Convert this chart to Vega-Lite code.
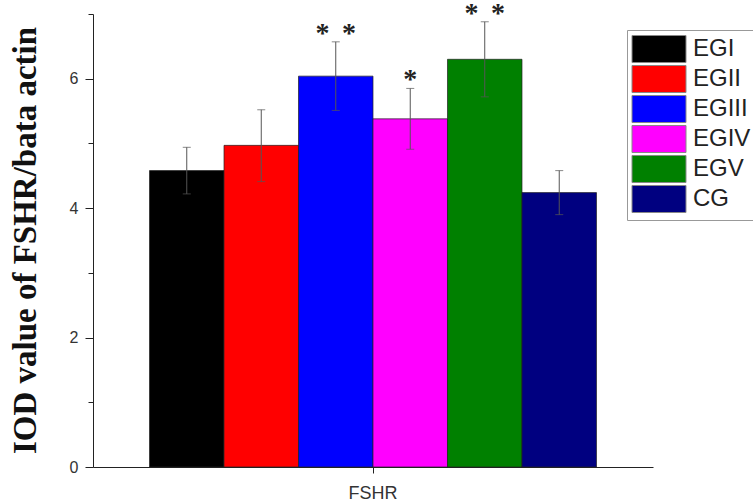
{
  "$schema": "https://vega.github.io/schema/vega-lite/v6.json",
  "width": 560,
  "height": 453,
  "autosize": {"type": "none"},
  "padding": {"left": 93, "top": 14, "right": 100, "bottom": 34},
  "background": "white",
  "config": {"view": {"stroke": null}},
  "data": {
    "values": [
      {"cat": "FSHR", "group": "EGI", "value": 4.58, "lo": 4.22, "hi": 4.94, "star": ""},
      {"cat": "FSHR", "group": "EGII", "value": 4.97, "lo": 4.41, "hi": 5.52, "star": ""},
      {"cat": "FSHR", "group": "EGIII", "value": 6.04, "lo": 5.51, "hi": 6.57, "star": "*\u00a0\u2009*"},
      {"cat": "FSHR", "group": "EGIV", "value": 5.38, "lo": 4.91, "hi": 5.85, "star": "*"},
      {"cat": "FSHR", "group": "EGV", "value": 6.30, "lo": 5.72, "hi": 6.88, "star": "*\u00a0\u2009*"},
      {"cat": "FSHR", "group": "CG", "value": 4.24, "lo": 3.90, "hi": 4.58, "star": ""}
    ]
  },
  "encoding": {
    "x": {
      "field": "cat",
      "type": "nominal",
      "scale": {"paddingOuter": 0.1264, "paddingInner": 0},
      "axis": {
        "title": null,
        "labelAngle": 0,
        "labelFont": "Liberation Sans",
        "labelFontSize": 18,
        "labelColor": "#333",
        "labelPadding": 11,
        "ticks": true,
        "tickSize": 6,
        "tickWidth": 1,
        "tickColor": "#222",
        "domainColor": "#222",
        "grid": false
      }
    },
    "xOffset": {
      "field": "group",
      "type": "nominal",
      "sort": ["EGI", "EGII", "EGIII", "EGIV", "EGV", "CG"],
      "scale": {"paddingInner": 0, "paddingOuter": 0}
    }
  },
  "layer": [
    {
      "mark": {"type": "bar", "stroke": "#222", "strokeWidth": 1, "strokeOpacity": 0.7},
      "encoding": {
        "y": {
          "field": "value",
          "type": "quantitative",
          "scale": {"domain": [0, 7], "nice": false, "zero": true},
          "axis": {
            "title": "IOD value of FSHR/bata actin",
            "values": [0, 1, 2, 3, 4, 5, 6, 7],
            "format": "d",
            "labelExpr": "datum.value % 2 == 0 ? datum.label : ''",
            "grid": false,
            "ticks": true,
            "tickSize": {"condition": {"test": "datum.value % 2 == 0", "value": 8}, "value": 5},
            "tickWidth": 1,
            "tickColor": "#222",
            "domainColor": "#222",
            "labelFont": "Liberation Sans",
            "labelFontSize": 16,
            "labelColor": "#333",
            "labelPadding": 7,
            "titleFont": "Liberation Serif",
            "titleFontSize": 33,
            "titleFontWeight": "bold",
            "titleColor": "#111",
            "titleAngle": 270,
            "titleAlign": "center",
            "titleBaseline": "middle",
            "titleX": -68,
            "titleY": 226
          }
        },
        "color": {
          "field": "group",
          "type": "nominal",
          "sort": ["EGI", "EGII", "EGIII", "EGIV", "EGV", "CG"],
          "scale": {
            "domain": ["EGI", "EGII", "EGIII", "EGIV", "EGV", "CG"],
            "range": ["#000000", "#ff0000", "#0000ff", "#ff00ff", "#008000", "#000080"]
          },
          "legend": {
            "title": null,
            "orient": "none",
            "legendX": 534,
            "legendY": 16,
            "padding": 5,
            "strokeColor": "#999",
            "symbolType": "M-2,-1H2V1H-2Z",
            "symbolSize": 729,
            "symbolOffset": 13,
            "symbolStrokeColor": "#888",
            "symbolStrokeWidth": 1,
            "symbolOpacity": 1,
            "labelFont": "Liberation Sans",
            "labelFontSize": 24,
            "labelColor": "#222",
            "labelOffset": 20,
            "rowPadding": -2
          }
        }
      }
    },
    {
      "mark": {"type": "rule", "color": "#555", "strokeWidth": 1},
      "encoding": {
        "y": {"field": "lo", "type": "quantitative"},
        "y2": {"field": "hi"}
      }
    },
    {
      "mark": {"type": "tick", "size": 8, "thickness": 1, "color": "#555"},
      "encoding": {"y": {"field": "hi", "type": "quantitative"}}
    },
    {
      "mark": {"type": "tick", "size": 8, "thickness": 1, "color": "#555"},
      "encoding": {"y": {"field": "lo", "type": "quantitative"}}
    },
    {
      "mark": {"type": "text", "font": "Liberation Serif", "fontWeight": "bold", "fontSize": 28, "baseline": "alphabetic", "align": "center", "dy": 0, "color": "#222"},
      "encoding": {
        "y": {"field": "hi", "type": "quantitative"},
        "text": {"field": "star"}
      }
    }
  ]
}
